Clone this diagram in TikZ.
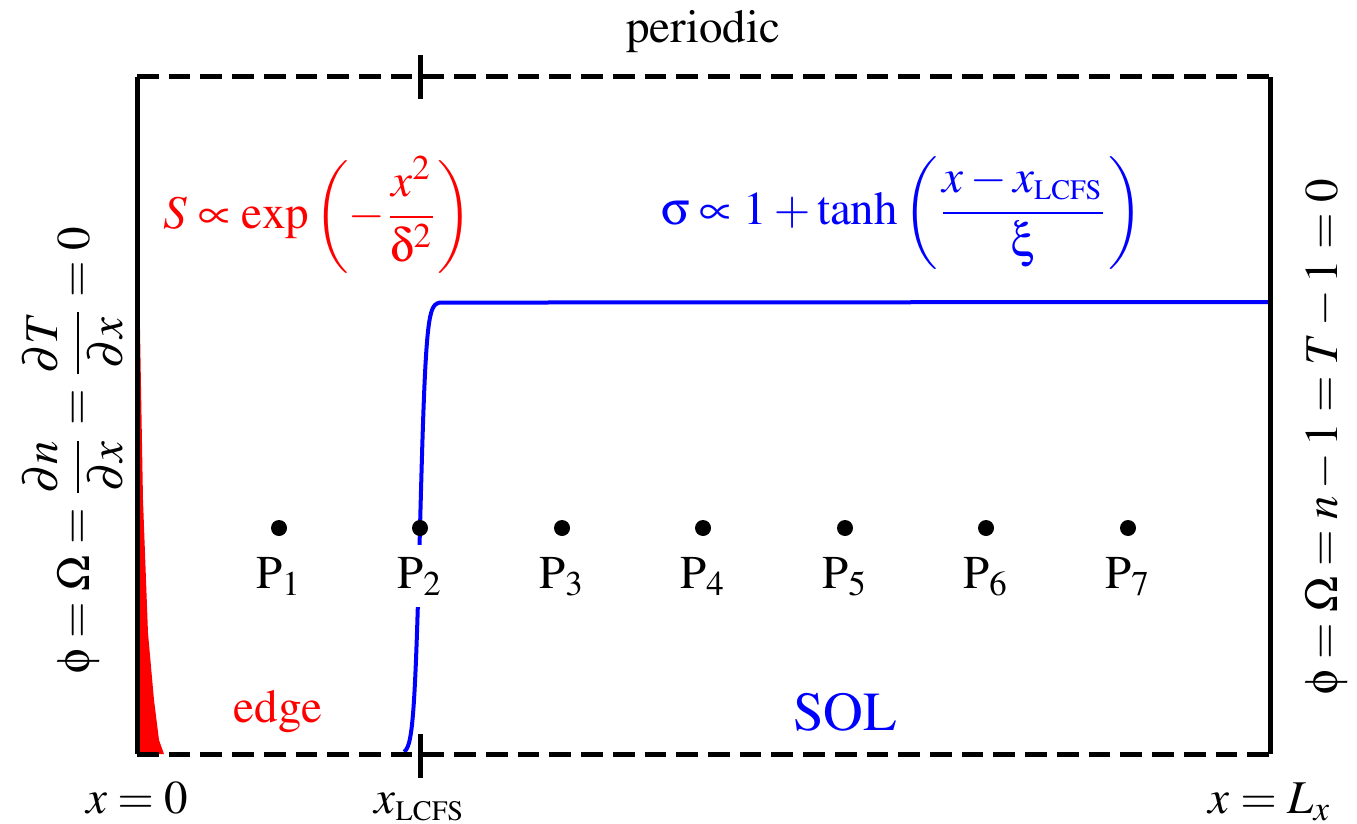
\documentclass[tikz,border=0pt]{standalone}
\usepackage[T1]{fontenc}
\usepackage{mathptmx}
\usepackage{amsmath}
\usepackage[Symbol]{upgreek}
\tikzset{
  txt/.style={font=\fontsize{11.75}{14}\selectfont, inner sep=0pt},
  bigtxt/.style={font=\fontsize{13.75}{16}\selectfont, inner sep=0pt},
  plabel/.style={txt, fill=white, inner sep=3pt, anchor=base},
  pdot/.style={circle, fill=black, inner sep=0pt, minimum size=4pt},
  wall/.style={line width=1.25pt},
  dashwall/.style={line width=1.25pt, dash pattern=on 5.43pt off 2.5pt},
  tickmark/.style={line width=1.25pt},
}
\newcommand{\lcfs}{{\scriptscriptstyle\mathrm{LCFS}}}
\begin{document}
\begin{tikzpicture}[x=0.25pt,y=-0.25pt]
\useasboundingbox (0,0) rectangle (1357,823);
\coordinate (TL) at (137,77);
\coordinate (TR) at (1270,77);
\coordinate (BL) at (137,754);
\coordinate (BR) at (1270,754);
\coordinate (TT1) at (420,55);
\coordinate (TT2) at (420,99);
\coordinate (BT1) at (420,734);
\coordinate (BT2) at (420,778);
\coordinate (BlueEnd) at (1270,302);

% source profile
\fill[red] (137,325) -- (140,330) -- (143,500) -- (148,633) -- (154,700) -- (159,740) -- (164,754) -- (BL) -- cycle;

% sigma profile
\draw[blue, line width=1pt] plot[domain=404:440, samples=90, variable=\t] (\t, {754 - 452*(1+tanh((\t-420)/6))/2}) -- (BlueEnd);

% box
\draw[dashwall] (TL) -- (TR);
\draw[dashwall] (BL) -- (BR);
\draw[wall] (TL) -- (BL);
\draw[wall] (TR) -- (BR);
\draw[tickmark] (TT1) -- (TT2);
\draw[tickmark] (BT1) -- (BT2);

% probes
\foreach \i/\px in {1/279, 2/420, 3/562, 4/703, 5/845, 6/986, 7/1128} {
  \node[plabel] (L\i) at (\px,588) {P$_{\i}$};
  \node[pdot] (D\i) at (\px,528) {};
}

% texts
\node[txt, anchor=base] (per) at (703,43) {periodic};
\node[txt, anchor=base, text=red] (edge) at (278,722) {edge};
\node[bigtxt, anchor=base, text=blue] (sol) at (845,730) {SOL};
\node[txt, text=red] (Sform) at (318,215) {$S \propto \exp\left(-\dfrac{x^2}{\updelta^2}\right)$};
\node[txt, text=blue] (sigform) at (902,213) {$\upsigma \propto 1 + \tanh\left(\dfrac{x - x_\lcfs}{\upxi}\right)$};
\node[txt, rotate=90] (leftbc) at (73,450) {$\upphi = \Omega = \dfrac{\partial n}{\partial x} = \dfrac{\partial T}{\partial x} = 0$};
\node[txt, rotate=90] (rightbc) at (1327,437) {$\upphi = \Omega = n - 1 = T - 1 = 0$};
\node[txt, anchor=base] (x0) at (137,813) {$x = 0$};
\node[txt, anchor=base] (xl) at (420,813) {$x_\lcfs$};
\node[txt, anchor=base] (xL) at (1270,813) {$x = L_x$};
\end{tikzpicture}
\end{document}
